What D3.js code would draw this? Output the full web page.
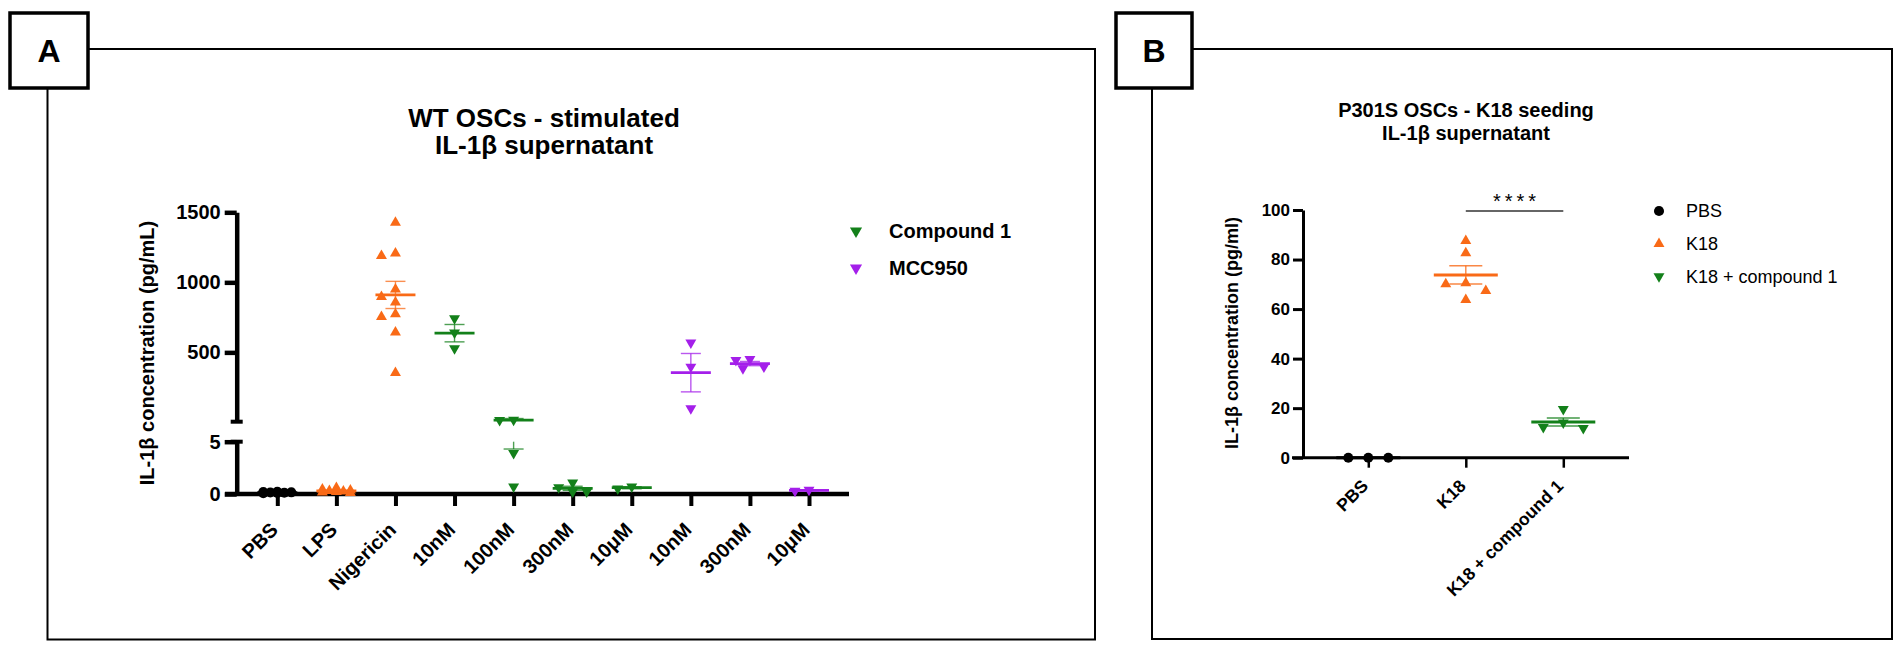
<!DOCTYPE html>
<html>
<head>
<meta charset="utf-8">
<script src="https://cdn.jsdelivr.net/npm/d3@7"></script>
<style>
  html, body { margin: 0; padding: 0; background: #fff; }
  svg { display: block; font-family: "Liberation Sans", Arial, sans-serif; }
</style>
</head>
<body>
<svg id="chart" width="1902" height="647"></svg>
<script>
// ---------------------------------------------------------------------
//  Data – panel A (WT OSCs, stimulated)
// ---------------------------------------------------------------------
const panelAKeys   = ['pbs', 'lps', 'nig', 'c10n', 'c100n', 'c300n', 'c10u', 'm10n', 'm300n', 'm10u'];
const panelALabels = ['PBS', 'LPS', 'Nigericin', '10nM', '100nM', '300nM', '10μM', '10nM', '300nM', '10μM'];
const panelASeries = ['PBS', 'LPS', 'Nigericin', 'Compound 1', 'Compound 1', 'Compound 1', 'Compound 1',
                      'MCC950', 'MCC950', 'MCC950'];

const pbsAValues       = [0.12, 0.16, 0.08, 0.2, 0.1, 0.14, 0.18];
const lpsAValues       = [0.15, 0.35, 0.25, 0.6, 0.1, 0.3, 0.45, 0.2];
const nigericinValues  = [1426, 1207, 1190, 950, 897, 857, 774, 754, 643, 354];
const cmpd10nMValues   = [743, 640, 529];
const cmpd100nMValues  = [17, 16, 3.9, 0.7];
const cmpd300nMValues  = [1.08, 0.64, 0.22, 0.22];
const cmpd10uMValues   = [0.5, 0.7];
const mcc10nMValues    = [569, 397, 100];
const mcc300nMValues   = [452, 445, 397, 386];
const mcc10uMValues    = [0.3, 0.4];

const panelAValues = [pbsAValues, lpsAValues, nigericinValues, cmpd10nMValues, cmpd100nMValues,
                      cmpd300nMValues, cmpd10uMValues, mcc10nMValues, mcc300nMValues, mcc10uMValues];
const panelAMeans  = [0.14, 0.3, 910, 637, 16, 0.54, 0.6, 355, 420, 0.35];
const panelASem    = [0.02, 0.06, 97, 62, 11.7, 0.2, 0.1, 137, 15, 0.05];

const panelAUpperTicks = [500, 1000, 1500];
const panelALowerTicks = [0, 5];
const panelALegend     = ['Compound 1', 'MCC950'];

// ---------------------------------------------------------------------
//  Data – panel B (P301S OSCs, K18 seeding)
// ---------------------------------------------------------------------
const panelBKeys    = ['PBS', 'K18', 'K18 + compound 1'];
const pbsBValues    = [0, 0, 0];
const k18Values     = [87.6, 82.6, 70.5, 70.1, 67.4, 63.7];
const k18CmpdValues = [19.6, 14.1, 12.3, 11.9];
const panelBValues  = [pbsBValues, k18Values, k18CmpdValues];
const panelBMeans   = [0, 73.8, 14.4];
const panelBSem     = [0, 3.7, 1.6];
const panelBTicks   = [0, 20, 40, 60, 80, 100];
const panelBSig     = { from: 'K18', to: 'K18 + compound 1', label: '****' };

// ---------------------------------------------------------------------
//  Marker styles per series
// ---------------------------------------------------------------------
const ORANGE = '#f96a17', GREEN = '#13801a', PURPLE = '#a41fea';
const seriesStyle = {
    'PBS':              { color: '#000', shape: d3.symbolCircle,   flip: false },
    'LPS':              { color: ORANGE, shape: d3.symbolTriangle, flip: false },
    'Nigericin':        { color: ORANGE, shape: d3.symbolTriangle, flip: false },
    'K18':              { color: ORANGE, shape: d3.symbolTriangle, flip: false },
    'Compound 1':       { color: GREEN,  shape: d3.symbolTriangle, flip: true },
    'K18 + compound 1': { color: GREEN,  shape: d3.symbolTriangle, flip: true },
    'MCC950':           { color: PURPLE, shape: d3.symbolTriangle, flip: true }
};

const svg = d3.select('#chart');

// 小工具：画一个标记
function marker(g, series, x, y, size) {
    const st = seriesStyle[series];
    const isCircle = st.shape === d3.symbolCircle;
    g.append('path')
        .attr('d', d3.symbol().type(st.shape).size(isCircle ? 80 : size)())
        .attr('transform', `translate(${x},${y})${st.flip ? ' rotate(180)' : ''}`)
        .attr('fill', st.color);
}

// 简单蜂群排布：先尝试中心，再左右，最后挑重叠最少的位置
function swarm(values, yOf, step, size) {
    const cands = [0, -step, step, -step / 2, step / 2];
    const placed = [];
    const out = new Array(values.length);
    d3.range(values.length)
        .sort((a, b) => values[b] - values[a])
        .forEach(i => {
            const y = yOf(values[i]);
            let best = 0, bestD = -1;
            for (const dx of cands) {
                const dmin = d3.min(placed, p => Math.hypot(p.dx - dx, p.y - y)) ?? Infinity;
                if (dmin >= size) { best = dx; break; }
                if (dmin > bestD) { bestD = dmin; best = dx; }
            }
            placed.push({ dx: best, y });
            out[i] = { dx: best, y };
        });
    return out;
}

// 面板边框和字母标签
function panelFrame(left, top, right, bottom, box, letter) {
    svg.append('rect')
        .attr('x', left).attr('y', top)
        .attr('width', right - left).attr('height', bottom - top)
        .attr('fill', 'none').attr('stroke', '#000').attr('stroke-width', 2);
    svg.append('rect')
        .attr('x', box.x).attr('y', box.y).attr('width', box.w).attr('height', box.h)
        .attr('fill', '#fff').attr('stroke', '#000').attr('stroke-width', 3.5);
    svg.append('text')
        .attr('x', box.x + box.w / 2).attr('y', box.y + box.h / 2)
        .attr('text-anchor', 'middle').attr('dominant-baseline', 'central')
        .style('font-size', '32px').style('font-weight', 'bold')
        .text(letter);
}

function titleLines(x, ys, lines, size) {
    lines.forEach((t, i) => {
        svg.append('text')
            .attr('x', x).attr('y', ys[i])
            .attr('text-anchor', 'middle')
            .style('font-size', size).style('font-weight', 'bold')
            .text(t);
    });
}

// ---------------------------------------------------------------------
//  Panel A
// ---------------------------------------------------------------------
function drawPanelA() {
    panelFrame(47.5, 49, 1095, 639.5, { x: 10, y: 13, w: 78, h: 75 }, 'A');
    titleLines(544, [127, 154], ['WT OSCs - stimulated', 'IL-1β supernatant'], '26px');

    const axisX = 236.7;
    const x = d3.scalePoint().domain(panelAKeys).range([277.3, 809]);
    const yLow  = d3.scaleLinear().domain([0, 5]).range([494, 441.7]);
    const yHigh = d3.scaleLinear().domain([5, 1500]).range([421.7, 212.3]);
    const y = v => (v <= 5 ? yLow(v) : yHigh(v));

    const g = svg.append('g');

    // 断轴：上下两段
    const upper = g.append('g').attr('transform', `translate(${axisX},0)`)
        .call(d3.axisLeft(yHigh).tickValues(panelAUpperTicks).tickFormat(d3.format('d'))
            .tickSize(12).tickSizeOuter(0).tickPadding(4));
    const lower = g.append('g').attr('transform', `translate(${axisX},0)`)
        .call(d3.axisLeft(yLow).tickValues(panelALowerTicks).tickFormat(d3.format('d'))
            .tickSize(12).tickSizeOuter(0).tickPadding(4));
    [upper, lower].forEach(a => {
        a.selectAll('path, line').attr('stroke', '#000').attr('stroke-width', 4.5);
        a.selectAll('text').style('font-size', '20px').style('font-weight', 'bold')
            .attr('font-family', null).attr('fill', '#000');
    });
    // 断点端帽
    [yHigh(5), yLow(5)].forEach(yy => {
        g.append('line').attr('x1', axisX - 6).attr('x2', axisX + 6)
            .attr('y1', yy).attr('y2', yy).attr('stroke', '#000').attr('stroke-width', 4);
    });

    // x 轴
    const xa = g.append('g').attr('transform', `translate(0,${yLow(0)})`)
        .call(d3.axisBottom(x).tickSize(12).tickSizeOuter(0).tickFormat(''));
    xa.select('.domain').remove();
    xa.selectAll('line').attr('stroke', '#000').attr('stroke-width', 4);
    g.append('line').attr('x1', 225).attr('x2', 849)
        .attr('y1', yLow(0)).attr('y2', yLow(0))
        .attr('stroke', '#000').attr('stroke-width', 4.5);
    panelAKeys.forEach((k, i) => {
        g.append('text')
            .attr('transform', `translate(${x(k) + 2},531) rotate(-45)`)
            .attr('text-anchor', 'end')
            .style('font-size', '20px').style('font-weight', 'bold')
            .text(panelALabels[i]);
    });

    g.append('text')
        .attr('transform', `translate(147,353) rotate(-90)`)
        .attr('text-anchor', 'middle').attr('dominant-baseline', 'central')
        .style('font-size', '20px').style('font-weight', 'bold')
        .text('IL-1β concentration (pg/mL)');

    // 在断轴上分段绘制竖线
    const pieces = (lo, hi) => {
        if (hi <= 5 || lo > 5) return [[y(lo), y(hi)]];
        return [[yLow(lo), yLow(5)], [yHigh(5), yHigh(hi)]];
    };

    panelAKeys.forEach((k, i) => {
        const series = panelASeries[i];
        const cx = x(k);
        swarm(panelAValues[i], y, 14, 10).forEach(p => marker(g, series, cx + p.dx, p.y, 52));

        const color = seriesStyle[series].color;
        const m = panelAMeans[i], s = panelASem[i];
        pieces(m - s, m + s).forEach(([a, b]) => {
            g.append('line').attr('x1', cx).attr('x2', cx).attr('y1', a).attr('y2', b)
                .attr('stroke', color).attr('stroke-width', 1.4).attr('opacity', 0.75);
        });
        [m - s, m + s].forEach(v => {
            g.append('line').attr('x1', cx - 10).attr('x2', cx + 10).attr('y1', y(v)).attr('y2', y(v))
                .attr('stroke', color).attr('stroke-width', 1.4).attr('opacity', 0.75);
        });
        g.append('line').attr('x1', cx - 20).attr('x2', cx + 20).attr('y1', y(m)).attr('y2', y(m))
            .attr('stroke', color).attr('stroke-width', 2.8);
    });

    // 图例
    panelALegend.forEach((name, i) => {
        const ly = 231 + i * 37;
        marker(g, name, 856, ly, 64);
        g.append('text').attr('x', 889).attr('y', ly)
            .attr('dominant-baseline', 'central')
            .style('font-size', '20px').style('font-weight', 'bold')
            .text(name);
    });
}

// ---------------------------------------------------------------------
//  Panel B
// ---------------------------------------------------------------------
function drawPanelB() {
    panelFrame(1152, 49, 1892, 639, { x: 1116, y: 13, w: 76, h: 75 }, 'B');
    titleLines(1466, [117, 140], ['P301S OSCs - K18 seeding', 'IL-1β supernatant'], '20px');

    const axisX = 1303;
    const x = d3.scalePoint().domain(panelBKeys).range([1368.3, 1563.3]);
    const y = d3.scaleLinear().domain([0, 100]).range([457.7, 210]);
    const g = svg.append('g');

    const ya = g.append('g').attr('transform', `translate(${axisX},0)`)
        .call(d3.axisLeft(y).tickValues(panelBTicks).tickSize(10).tickSizeOuter(0).tickPadding(3));
    ya.selectAll('path, line').attr('stroke', '#000').attr('stroke-width', 3);
    ya.selectAll('text').style('font-size', '17px').style('font-weight', 'bold')
        .attr('font-family', null).attr('fill', '#000');

    const xa = g.append('g').attr('transform', `translate(0,${y(0)})`)
        .call(d3.axisBottom(x).tickSize(10).tickSizeOuter(0).tickFormat(''));
    xa.select('.domain').remove();
    xa.selectAll('line').attr('stroke', '#000').attr('stroke-width', 2.5);
    g.append('line').attr('x1', 1292).attr('x2', 1629)
        .attr('y1', y(0)).attr('y2', y(0))
        .attr('stroke', '#000').attr('stroke-width', 3);
    panelBKeys.forEach(k => {
        g.append('text')
            .attr('transform', `translate(${x(k) + 1},487) rotate(-45)`)
            .attr('text-anchor', 'end')
            .style('font-size', '17.5px').style('font-weight', 'bold')
            .text(k);
    });

    g.append('text')
        .attr('transform', `translate(1232,333) rotate(-90)`)
        .attr('text-anchor', 'middle').attr('dominant-baseline', 'central')
        .style('font-size', '18px').style('font-weight', 'bold')
        .text('IL-1β concentration (pg/ml)');

    panelBKeys.forEach((k, i) => {
        const cx = x(k);
        const color = seriesStyle[k].color;
        swarm(panelBValues[i], y, 20, 11).forEach(p => marker(g, k, cx + p.dx, p.y, 52));

        const m = panelBMeans[i], s = panelBSem[i];
        if (s > 0) {
            g.append('line').attr('x1', cx).attr('x2', cx).attr('y1', y(m - s)).attr('y2', y(m + s))
                .attr('stroke', color).attr('stroke-width', 1.4).attr('opacity', 0.8);
            [m - s, m + s].forEach(v => {
                g.append('line').attr('x1', cx - 16.5).attr('x2', cx + 16.5).attr('y1', y(v)).attr('y2', y(v))
                    .attr('stroke', color).attr('stroke-width', 1.4).attr('opacity', 0.8);
            });
        }
        g.append('line').attr('x1', cx - 32).attr('x2', cx + 32).attr('y1', y(m)).attr('y2', y(m))
            .attr('stroke', color).attr('stroke-width', 3);
    });

    // 显著性标注
    const sy = y(100) + 1;
    g.append('line').attr('x1', x(panelBSig.from)).attr('x2', x(panelBSig.to))
        .attr('y1', sy).attr('y2', sy).attr('stroke', '#333').attr('stroke-width', 1.5);
    g.append('text')
        .attr('x', (x(panelBSig.from) + x(panelBSig.to)) / 2 + 2).attr('y', sy - 3)
        .attr('text-anchor', 'middle')
        .style('font-size', '20px').style('letter-spacing', '4px')
        .text(panelBSig.label);

    // 图例
    panelBKeys.forEach((name, i) => {
        const ly = 211 + i * 32.75;
        marker(g, name, 1659, ly, 52);
        g.append('text').attr('x', 1686).attr('y', ly)
            .attr('dominant-baseline', 'central')
            .style('font-size', '18px')
            .text(name);
    });
}

drawPanelA();
drawPanelB();
</script>
</body>
</html>
